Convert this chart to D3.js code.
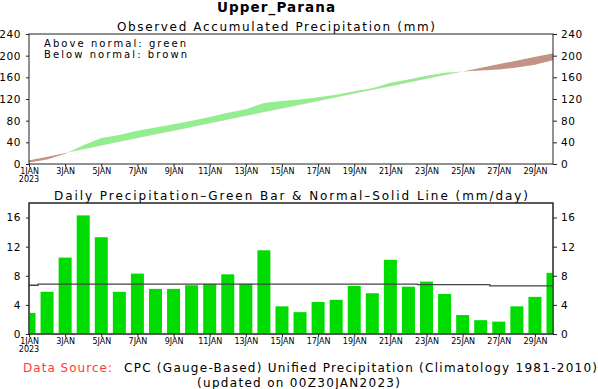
<!DOCTYPE html>
<html>
<head>
<meta charset="utf-8">
<script src="https://cdn.jsdelivr.net/npm/d3@7"></script>
<style>
  body { margin: 0; background: #fff; }
  svg { display: block; }
  text { font-family: "DejaVu Sans", sans-serif; fill: #000; }
</style>
</head>
<body>
<div id="chart"></div>
<script>
// Dates on the x axis (1JAN..30JAN 2023)
const days = ["1JAN", "2JAN", "3JAN", "4JAN", "5JAN", "6JAN", "7JAN", "8JAN", "9JAN", "10JAN",
  "11JAN", "12JAN", "13JAN", "14JAN", "15JAN", "16JAN", "17JAN", "18JAN", "19JAN", "20JAN",
  "21JAN", "22JAN", "23JAN", "24JAN", "25JAN", "26JAN", "27JAN", "28JAN", "29JAN", "30JAN"];
const tickDays = ["1JAN", "3JAN", "5JAN", "7JAN", "9JAN", "11JAN", "13JAN", "15JAN",
  "17JAN", "19JAN", "21JAN", "23JAN", "25JAN", "27JAN", "29JAN"];

// accumulated precipitation (mm)
const observedAccum = [2.8, 8.5, 18.8, 34.8, 47.8, 53.4, 61.4, 67.4, 73.4, 79.9,
  86.6, 94.6, 101.3, 112.5, 116.2, 119.1, 123.4, 128.0, 134.4, 139.9,
  149.8, 156.1, 163.1, 168.5, 171.0, 172.8, 174.5, 178.2, 183.2, 191.4];
const normalAccum = [6.7, 13.6, 20.4, 27.3, 34.1, 41.0, 47.8, 54.7, 61.5, 68.4,
  75.2, 82.1, 88.9, 95.8, 102.6, 109.5, 116.3, 123.2, 130.0, 136.9,
  143.7, 150.6, 157.4, 164.2, 171.0, 177.8, 184.5, 191.2, 197.9, 204.6];

// daily precipitation (mm/day)
const dailyObserved = [2.9, 5.8, 10.5, 16.3, 13.3, 5.8, 8.3, 6.2, 6.2, 6.7,
  6.9, 8.2, 6.9, 11.5, 3.8, 3.0, 4.4, 4.7, 6.6, 5.6,
  10.2, 6.5, 7.2, 5.5, 2.6, 1.9, 1.7, 3.8, 5.1, 8.4];
const dailyNormal = [6.7, 6.85, 6.85, 6.85, 6.85, 6.85, 6.85, 6.85, 6.85, 6.85,
  6.85, 6.85, 6.85, 6.85, 6.85, 6.85, 6.85, 6.85, 6.85, 6.85,
  6.85, 6.85, 6.78, 6.78, 6.78, 6.78, 6.62, 6.62, 6.62, 6.62];

const accumTicks = [0, 40, 80, 120, 160, 200, 240];
const dailyTicks = [0, 4, 8, 12, 16];

const width = 598, height = 389;
const left = 29, right = 553;

const svg = d3.select("#chart").append("svg")
  .attr("width", width)
  .attr("height", height);

const x = d3.scaleLinear().domain([0, days.length - 1]).range([left, right]);

function fitted(txt, x0, y, len, size, weight) {
  return svg.append("text")
    .attr("x", x0)
    .attr("y", y)
    .attr("textLength", len)
    .attr("lengthAdjust", "spacing")
    .style("font-size", size + "px")
    .style("font-weight", weight || "normal")
    .text(txt);
}

function drawAxes(y, top, bottom, ticks, id) {
  const g = svg.append("g");
  g.append("g")
    .attr("transform", "translate(" + left + ",0)")
    .call(d3.axisLeft(y).tickValues(ticks).tickSize(3).tickPadding(5))
    .call(sel => sel.select(".domain").remove());
  g.append("g")
    .attr("transform", "translate(" + right + ",0)")
    .call(d3.axisRight(y).tickValues(ticks).tickSize(4).tickPadding(4))
    .call(sel => sel.select(".domain").remove());
  g.selectAll(".tick text")
    .style("font-family", "DejaVu Sans, sans-serif")
    .style("font-size", "10.5px")
    .style("letter-spacing", "0.6px")
    .attr("fill", "#000");
  g.selectAll(".tick line").attr("stroke", "#222");

  const xb = svg.append("g")
    .attr("transform", "translate(0," + bottom + ")")
    .call(d3.axisBottom(x)
      .tickValues(tickDays.map(d => days.indexOf(d)))
      .tickFormat(i => days[i])
      .tickSize(3).tickPadding(1))
    .call(sel => sel.select(".domain").remove());
  xb.selectAll(".tick text")
    .style("font-family", "DejaVu Sans, sans-serif")
    .style("font-size", "8px")
    .attr("fill", "#000");
  xb.selectAll(".tick line").attr("stroke", "#222");
  svg.append("text")
    .attr("x", x(0))
    .attr("y", bottom + 18)
    .attr("text-anchor", "middle")
    .style("font-size", "8px")
    .text("2023");

  // frame
  svg.append("rect")
    .attr("x", left).attr("y", top)
    .attr("width", right - left).attr("height", bottom - top)
    .attr("fill", "none")
    .attr("stroke", "#222")
    .attr("stroke-width", 1);

  svg.append("clipPath").attr("id", id)
    .append("rect")
    .attr("x", left).attr("y", top)
    .attr("width", right - left).attr("height", bottom - top);
}

// titles
fitted("Upper_Parana", 217, 12, 118, 13.5, "bold");
fitted("Observed Accumulated Precipitation (mm)", 117, 30.5, 318, 12);

/**
 * Accumulated chart
 */
const yAcc = d3.scaleLinear().domain([0, 240]).range([164, 34]);
const defs = svg.append("defs");

const band = d3.area()
  .x((d, i) => x(i))
  .y0((d, i) => yAcc(normalAccum[i]))
  .y1(d => yAcc(d));
const normalPts = normalAccum.map((d, i) => [x(i), yAcc(d)]);

// region above normal -> green, below normal -> brown
defs.append("clipPath").attr("id", "aboveNormal")
  .append("path")
  .attr("d", "M" + normalPts.join("L") + "L" + right + ",0L" + left + ",0Z");
defs.append("clipPath").attr("id", "belowNormal")
  .append("path")
  .attr("d", "M" + normalPts.join("L") + "L" + right + "," + height + "L" + left + "," + height + "Z");

svg.append("path")
  .datum(observedAccum)
  .attr("d", band)
  .attr("clip-path", "url(#aboveNormal)")
  .attr("fill", "#92ee8e");
svg.append("path")
  .datum(observedAccum)
  .attr("d", band)
  .attr("clip-path", "url(#belowNormal)")
  .attr("fill", "#c39486");

drawAxes(yAcc, 34, 164, accumTicks, "clipAcc");

fitted("Above normal: green", 44, 46.5, 142, 10);
fitted("Below normal: brown", 44, 57.5, 143, 10);

/**
 * Daily chart
 */
fitted("Daily Precipitation\u2013Green Bar & Normal\u2013Solid Line (mm/day)", 54, 200, 474, 12);

const yDay = d3.scaleLinear().domain([0, 18]).range([334, 203]);
const step = x(1) - x(0);
const barW = step * 0.72;

drawAxes(yDay, 203, 334, dailyTicks, "clipDay");

svg.append("g")
  .attr("clip-path", "url(#clipDay)")
  .selectAll("rect")
  .data(dailyObserved)
  .enter().append("rect")
  .attr("x", (d, i) => x(i) - barW / 2)
  .attr("y", d => yDay(d))
  .attr("width", barW)
  .attr("height", d => yDay(0) - yDay(d))
  .attr("fill", "#00dc00");

// normal as a stepped line centred on each day
const normalStep = d3.line()
  .x(d => x(d[0]))
  .y(d => yDay(d[1]))
  .curve(d3.curveStep);
const stepData = [[-0.5, dailyNormal[0]]]
  .concat(dailyNormal.map((d, i) => [i, d]))
  .concat([[days.length - 0.5, dailyNormal[dailyNormal.length - 1]]]);
svg.append("path")
  .datum(stepData)
  .attr("clip-path", "url(#clipDay)")
  .attr("d", normalStep)
  .attr("fill", "none")
  .attr("stroke", "#444")
  .attr("stroke-width", 1.3);

// redraw frame on top of bars
svg.append("rect")
  .attr("x", left).attr("y", 203)
  .attr("width", right - left).attr("height", 131)
  .attr("fill", "none").attr("stroke", "#222");

// footer
fitted("Data Source:", 23, 371.5, 89, 12).style("fill", "#ff3b3b");
fitted("CPC (Gauge-Based) Unified Precipitation (Climatology 1981-2010)", 124, 371.5, 473, 12);
fitted("(updated on 00Z30JAN2023)", 197, 387, 203, 12);
</script>
</body>
</html>
